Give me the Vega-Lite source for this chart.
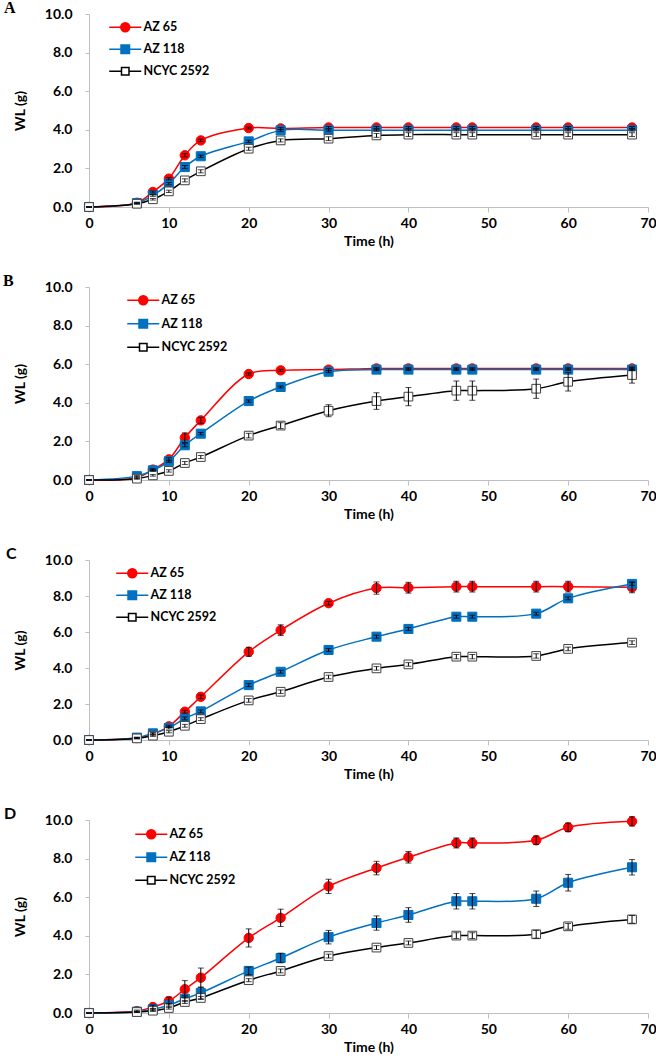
{
  "$schema": "https://vega.github.io/schema/vega-lite/v6.json",
  "padding": {"left": 3, "top": 0, "right": 0, "bottom": 0},
  "spacing": 25,
  "config": {
    "view": {"stroke": null},
    "font": "Lato",
    "axis": {"grid": false, "domainColor": "#bfbfbf", "tickColor": "#bfbfbf", "labelFont": "Lato", "labelFontWeight": "bold", "labelFontSize": 14, "labelColor": "#000", "titleFont": "Lato", "titleFontSize": 14, "titleFontWeight": "bold", "titleColor": "#000"}
  },
  "resolve": {"scale": {"stroke": "independent", "fill": "independent", "shape": "independent", "size": "independent", "strokeWidth": "independent"}},
  "datasets": {
    "d": [
      {"p":"A","s":"AZ 65","t":0,"y":0,"e":0},{"p":"A","s":"AZ 65","t":6,"y":0.22,"e":0.03},{"p":"A","s":"AZ 65","t":8,"y":0.78,"e":0.05},{"p":"A","s":"AZ 65","t":10,"y":1.47,"e":0.06},{"p":"A","s":"AZ 65","t":12,"y":2.68,"e":0.08},{"p":"A","s":"AZ 65","t":14,"y":3.45,"e":0.06},{"p":"A","s":"AZ 65","t":20,"y":4.09,"e":0.05},{"p":"A","s":"AZ 65","t":24,"y":4.07,"e":0.05},{"p":"A","s":"AZ 65","t":30,"y":4.12,"e":0.05},{"p":"A","s":"AZ 65","t":36,"y":4.12,"e":0.05},{"p":"A","s":"AZ 65","t":40,"y":4.12,"e":0.05},{"p":"A","s":"AZ 65","t":46,"y":4.12,"e":0.05},{"p":"A","s":"AZ 65","t":48,"y":4.12,"e":0.05},{"p":"A","s":"AZ 65","t":56,"y":4.12,"e":0.05},{"p":"A","s":"AZ 65","t":60,"y":4.12,"e":0.05},{"p":"A","s":"AZ 65","t":68,"y":4.12,"e":0.05},
      {"p":"A","s":"AZ 118","t":0,"y":0,"e":0},{"p":"A","s":"AZ 118","t":6,"y":0.2,"e":0.03},{"p":"A","s":"AZ 118","t":8,"y":0.6,"e":0.05},{"p":"A","s":"AZ 118","t":10,"y":1.21,"e":0.06},{"p":"A","s":"AZ 118","t":12,"y":2.07,"e":0.08},{"p":"A","s":"AZ 118","t":14,"y":2.63,"e":0.06},{"p":"A","s":"AZ 118","t":20,"y":3.4,"e":0.06},{"p":"A","s":"AZ 118","t":24,"y":3.97,"e":0.05},{"p":"A","s":"AZ 118","t":30,"y":3.98,"e":0.05},{"p":"A","s":"AZ 118","t":36,"y":3.98,"e":0.05},{"p":"A","s":"AZ 118","t":40,"y":3.98,"e":0.05},{"p":"A","s":"AZ 118","t":46,"y":3.98,"e":0.05},{"p":"A","s":"AZ 118","t":48,"y":3.98,"e":0.05},{"p":"A","s":"AZ 118","t":56,"y":3.98,"e":0.05},{"p":"A","s":"AZ 118","t":60,"y":3.98,"e":0.05},{"p":"A","s":"AZ 118","t":68,"y":3.98,"e":0.05},
      {"p":"A","s":"NCYC 2592","t":0,"y":0,"e":0},{"p":"A","s":"NCYC 2592","t":6,"y":0.17,"e":0.03},{"p":"A","s":"NCYC 2592","t":8,"y":0.4,"e":0.04},{"p":"A","s":"NCYC 2592","t":10,"y":0.81,"e":0.06},{"p":"A","s":"NCYC 2592","t":12,"y":1.38,"e":0.08},{"p":"A","s":"NCYC 2592","t":14,"y":1.85,"e":0.08},{"p":"A","s":"NCYC 2592","t":20,"y":3.02,"e":0.08},{"p":"A","s":"NCYC 2592","t":24,"y":3.45,"e":0.08},{"p":"A","s":"NCYC 2592","t":30,"y":3.54,"e":0.1},{"p":"A","s":"NCYC 2592","t":36,"y":3.71,"e":0.1},{"p":"A","s":"NCYC 2592","t":40,"y":3.75,"e":0.1},{"p":"A","s":"NCYC 2592","t":46,"y":3.75,"e":0.1},{"p":"A","s":"NCYC 2592","t":48,"y":3.75,"e":0.1},{"p":"A","s":"NCYC 2592","t":56,"y":3.75,"e":0.1},{"p":"A","s":"NCYC 2592","t":60,"y":3.75,"e":0.1},{"p":"A","s":"NCYC 2592","t":68,"y":3.75,"e":0.1},

      {"p":"B","s":"AZ 65","t":0,"y":0,"e":0},{"p":"B","s":"AZ 65","t":6,"y":0.12,"e":0.03},{"p":"B","s":"AZ 65","t":8,"y":0.54,"e":0.05},{"p":"B","s":"AZ 65","t":10,"y":1.07,"e":0.08},{"p":"B","s":"AZ 65","t":12,"y":2.19,"e":0.25},{"p":"B","s":"AZ 65","t":14,"y":3.09,"e":0.15},{"p":"B","s":"AZ 65","t":20,"y":5.49,"e":0.06},{"p":"B","s":"AZ 65","t":24,"y":5.68,"e":0.05},{"p":"B","s":"AZ 65","t":30,"y":5.72,"e":0.05},{"p":"B","s":"AZ 65","t":36,"y":5.78,"e":0.05},{"p":"B","s":"AZ 65","t":40,"y":5.78,"e":0.05},{"p":"B","s":"AZ 65","t":46,"y":5.78,"e":0.05},{"p":"B","s":"AZ 65","t":48,"y":5.78,"e":0.05},{"p":"B","s":"AZ 65","t":56,"y":5.78,"e":0.05},{"p":"B","s":"AZ 65","t":60,"y":5.78,"e":0.05},{"p":"B","s":"AZ 65","t":68,"y":5.78,"e":0.05},
      {"p":"B","s":"AZ 118","t":0,"y":0,"e":0},{"p":"B","s":"AZ 118","t":6,"y":0.2,"e":0.03},{"p":"B","s":"AZ 118","t":8,"y":0.5,"e":0.05},{"p":"B","s":"AZ 118","t":10,"y":0.97,"e":0.06},{"p":"B","s":"AZ 118","t":12,"y":1.8,"e":0.08},{"p":"B","s":"AZ 118","t":14,"y":2.4,"e":0.06},{"p":"B","s":"AZ 118","t":20,"y":4.09,"e":0.06},{"p":"B","s":"AZ 118","t":24,"y":4.82,"e":0.05},{"p":"B","s":"AZ 118","t":30,"y":5.61,"e":0.05},{"p":"B","s":"AZ 118","t":36,"y":5.72,"e":0.05},{"p":"B","s":"AZ 118","t":40,"y":5.72,"e":0.05},{"p":"B","s":"AZ 118","t":46,"y":5.72,"e":0.05},{"p":"B","s":"AZ 118","t":48,"y":5.72,"e":0.05},{"p":"B","s":"AZ 118","t":56,"y":5.72,"e":0.05},{"p":"B","s":"AZ 118","t":60,"y":5.72,"e":0.05},{"p":"B","s":"AZ 118","t":68,"y":5.72,"e":0.05},
      {"p":"B","s":"NCYC 2592","t":0,"y":0,"e":0},{"p":"B","s":"NCYC 2592","t":6,"y":0.07,"e":0.03},{"p":"B","s":"NCYC 2592","t":8,"y":0.24,"e":0.04},{"p":"B","s":"NCYC 2592","t":10,"y":0.47,"e":0.06},{"p":"B","s":"NCYC 2592","t":12,"y":0.88,"e":0.08},{"p":"B","s":"NCYC 2592","t":14,"y":1.19,"e":0.08},{"p":"B","s":"NCYC 2592","t":20,"y":2.3,"e":0.12},{"p":"B","s":"NCYC 2592","t":24,"y":2.82,"e":0.15},{"p":"B","s":"NCYC 2592","t":30,"y":3.59,"e":0.31},{"p":"B","s":"NCYC 2592","t":36,"y":4.09,"e":0.43},{"p":"B","s":"NCYC 2592","t":40,"y":4.32,"e":0.47},{"p":"B","s":"NCYC 2592","t":46,"y":4.63,"e":0.5},{"p":"B","s":"NCYC 2592","t":48,"y":4.63,"e":0.5},{"p":"B","s":"NCYC 2592","t":56,"y":4.73,"e":0.5},{"p":"B","s":"NCYC 2592","t":60,"y":5.09,"e":0.48},{"p":"B","s":"NCYC 2592","t":68,"y":5.44,"e":0.42},

      {"p":"C","s":"AZ 65","t":0,"y":0,"e":0},{"p":"C","s":"AZ 65","t":6,"y":0.11,"e":0.03},{"p":"C","s":"AZ 65","t":8,"y":0.33,"e":0.05},{"p":"C","s":"AZ 65","t":10,"y":0.76,"e":0.06},{"p":"C","s":"AZ 65","t":12,"y":1.57,"e":0.08},{"p":"C","s":"AZ 65","t":14,"y":2.4,"e":0.1},{"p":"C","s":"AZ 65","t":20,"y":4.9,"e":0.25},{"p":"C","s":"AZ 65","t":24,"y":6.1,"e":0.3},{"p":"C","s":"AZ 65","t":30,"y":7.6,"e":0.1},{"p":"C","s":"AZ 65","t":36,"y":8.44,"e":0.34},{"p":"C","s":"AZ 65","t":40,"y":8.46,"e":0.3},{"p":"C","s":"AZ 65","t":46,"y":8.52,"e":0.3},{"p":"C","s":"AZ 65","t":48,"y":8.52,"e":0.3},{"p":"C","s":"AZ 65","t":56,"y":8.52,"e":0.3},{"p":"C","s":"AZ 65","t":60,"y":8.52,"e":0.3},{"p":"C","s":"AZ 65","t":68,"y":8.48,"e":0.3},
      {"p":"C","s":"AZ 118","t":0,"y":0,"e":0},{"p":"C","s":"AZ 118","t":6,"y":0.13,"e":0.03},{"p":"C","s":"AZ 118","t":8,"y":0.37,"e":0.05},{"p":"C","s":"AZ 118","t":10,"y":0.67,"e":0.06},{"p":"C","s":"AZ 118","t":12,"y":1.2,"e":0.08},{"p":"C","s":"AZ 118","t":14,"y":1.59,"e":0.08},{"p":"C","s":"AZ 118","t":20,"y":3.05,"e":0.08},{"p":"C","s":"AZ 118","t":24,"y":3.79,"e":0.08},{"p":"C","s":"AZ 118","t":30,"y":5.0,"e":0.08},{"p":"C","s":"AZ 118","t":36,"y":5.74,"e":0.08},{"p":"C","s":"AZ 118","t":40,"y":6.17,"e":0.08},{"p":"C","s":"AZ 118","t":46,"y":6.85,"e":0.08},{"p":"C","s":"AZ 118","t":48,"y":6.85,"e":0.08},{"p":"C","s":"AZ 118","t":56,"y":7.02,"e":0.08},{"p":"C","s":"AZ 118","t":60,"y":7.87,"e":0.08},{"p":"C","s":"AZ 118","t":68,"y":8.67,"e":0.08},
      {"p":"C","s":"NCYC 2592","t":0,"y":0,"e":0},{"p":"C","s":"NCYC 2592","t":6,"y":0.09,"e":0.03},{"p":"C","s":"NCYC 2592","t":8,"y":0.24,"e":0.04},{"p":"C","s":"NCYC 2592","t":10,"y":0.46,"e":0.06},{"p":"C","s":"NCYC 2592","t":12,"y":0.79,"e":0.08},{"p":"C","s":"NCYC 2592","t":14,"y":1.16,"e":0.08},{"p":"C","s":"NCYC 2592","t":20,"y":2.2,"e":0.1},{"p":"C","s":"NCYC 2592","t":24,"y":2.68,"e":0.1},{"p":"C","s":"NCYC 2592","t":30,"y":3.5,"e":0.1},{"p":"C","s":"NCYC 2592","t":36,"y":3.98,"e":0.1},{"p":"C","s":"NCYC 2592","t":40,"y":4.2,"e":0.1},{"p":"C","s":"NCYC 2592","t":46,"y":4.63,"e":0.12},{"p":"C","s":"NCYC 2592","t":48,"y":4.63,"e":0.12},{"p":"C","s":"NCYC 2592","t":56,"y":4.67,"e":0.12},{"p":"C","s":"NCYC 2592","t":60,"y":5.06,"e":0.1},{"p":"C","s":"NCYC 2592","t":68,"y":5.41,"e":0.1},

      {"p":"D","s":"AZ 65","t":0,"y":0,"e":0},{"p":"D","s":"AZ 65","t":6,"y":0.1,"e":0.05},{"p":"D","s":"AZ 65","t":8,"y":0.31,"e":0.1},{"p":"D","s":"AZ 65","t":10,"y":0.62,"e":0.2},{"p":"D","s":"AZ 65","t":12,"y":1.23,"e":0.45},{"p":"D","s":"AZ 65","t":14,"y":1.83,"e":0.5},{"p":"D","s":"AZ 65","t":20,"y":3.89,"e":0.47},{"p":"D","s":"AZ 65","t":24,"y":4.93,"e":0.45},{"p":"D","s":"AZ 65","t":30,"y":6.56,"e":0.37},{"p":"D","s":"AZ 65","t":36,"y":7.51,"e":0.35},{"p":"D","s":"AZ 65","t":40,"y":8.07,"e":0.3},{"p":"D","s":"AZ 65","t":46,"y":8.81,"e":0.26},{"p":"D","s":"AZ 65","t":48,"y":8.81,"e":0.26},{"p":"D","s":"AZ 65","t":56,"y":8.95,"e":0.22},{"p":"D","s":"AZ 65","t":60,"y":9.62,"e":0.22},{"p":"D","s":"AZ 65","t":68,"y":9.93,"e":0.24},
      {"p":"D","s":"AZ 118","t":0,"y":0,"e":0},{"p":"D","s":"AZ 118","t":6,"y":0.07,"e":0.03},{"p":"D","s":"AZ 118","t":8,"y":0.19,"e":0.05},{"p":"D","s":"AZ 118","t":10,"y":0.4,"e":0.1},{"p":"D","s":"AZ 118","t":12,"y":0.74,"e":0.15},{"p":"D","s":"AZ 118","t":14,"y":1.04,"e":0.3},{"p":"D","s":"AZ 118","t":20,"y":2.18,"e":0.2},{"p":"D","s":"AZ 118","t":24,"y":2.85,"e":0.25},{"p":"D","s":"AZ 118","t":30,"y":3.93,"e":0.35},{"p":"D","s":"AZ 118","t":36,"y":4.66,"e":0.37},{"p":"D","s":"AZ 118","t":40,"y":5.08,"e":0.38},{"p":"D","s":"AZ 118","t":46,"y":5.79,"e":0.4},{"p":"D","s":"AZ 118","t":48,"y":5.79,"e":0.4},{"p":"D","s":"AZ 118","t":56,"y":5.92,"e":0.4},{"p":"D","s":"AZ 118","t":60,"y":6.75,"e":0.43},{"p":"D","s":"AZ 118","t":68,"y":7.55,"e":0.4},
      {"p":"D","s":"NCYC 2592","t":0,"y":0,"e":0},{"p":"D","s":"NCYC 2592","t":6,"y":0.05,"e":0.03},{"p":"D","s":"NCYC 2592","t":8,"y":0.12,"e":0.04},{"p":"D","s":"NCYC 2592","t":10,"y":0.26,"e":0.06},{"p":"D","s":"NCYC 2592","t":12,"y":0.57,"e":0.08},{"p":"D","s":"NCYC 2592","t":14,"y":0.78,"e":0.08},{"p":"D","s":"NCYC 2592","t":20,"y":1.7,"e":0.08},{"p":"D","s":"NCYC 2592","t":24,"y":2.18,"e":0.1},{"p":"D","s":"NCYC 2592","t":30,"y":2.95,"e":0.1},{"p":"D","s":"NCYC 2592","t":36,"y":3.39,"e":0.1},{"p":"D","s":"NCYC 2592","t":40,"y":3.63,"e":0.1},{"p":"D","s":"NCYC 2592","t":46,"y":4.01,"e":0.15},{"p":"D","s":"NCYC 2592","t":48,"y":4.01,"e":0.15},{"p":"D","s":"NCYC 2592","t":56,"y":4.08,"e":0.2},{"p":"D","s":"NCYC 2592","t":60,"y":4.49,"e":0.15},{"p":"D","s":"NCYC 2592","t":68,"y":4.85,"e":0.2}
    ]
  },
  "vconcat": [
    {
      "width": 559, "height": 193,
      "title": {"text": "A", "anchor": "start", "frame": "group", "dx": -85, "offset": -22, "baseline": "alphabetic", "font": "Liberation Serif", "fontSize": 16, "fontWeight": "bold", "color": "#000"},
      "data": {"name": "d"},
      "transform": [{"filter": "datum.p == 'A'"}],
      "resolve": {"scale": {"stroke": "independent", "fill": "independent", "shape": "independent", "size": "independent", "strokeWidth": "independent"}},
      "encoding": {
        "x": {"field": "t", "type": "quantitative", "scale": {"domain": [0, 70], "nice": false}, "axis": {"title": "Time (h)", "values": [0,10,20,30,40,50,60,70], "tickSize": 5, "labelPadding": 4, "titlePadding": 4, "labelFlush": false}},
        "y": {"field": "y", "type": "quantitative", "scale": {"domain": [0, 10], "nice": false}, "axis": {"title": "WL (g)", "values": [0,2,4,6,8,10], "format": ".1f", "tickSize": 4, "labelPadding": 13, "titlePadding": 17}}
      },
      "layer": [
        {"mark": {"type": "line", "interpolate": "catmull-rom"},
         "encoding": {
           "stroke": {"field": "s", "type": "nominal", "scale": {"domain": ["AZ 65","AZ 118","NCYC 2592"], "range": ["#ff0000","#0070c0","#000000"]}, "legend": null},
           "strokeWidth": {"field": "s", "type": "nominal", "scale": {"domain": ["AZ 65","AZ 118","NCYC 2592"], "range": [1.5, 1.5, 1.5]}, "legend": null}
         }},
        {"mark": {"type": "point", "strokeWidth": 1, "opacity": 1, "fillOpacity": 1},
         "encoding": {
           "stroke": {"field": "s", "type": "nominal", "scale": {"domain": ["AZ 65","AZ 118","NCYC 2592"], "range": ["#ff0000","#0070c0","#404040"]}, "legend": null},
           "fill": {"field": "s", "type": "nominal", "scale": {"domain": ["AZ 65","AZ 118","NCYC 2592"], "range": ["#ff0000","#0070c0","#ffffff"]}, "legend": null},
           "shape": {"field": "s", "type": "nominal", "scale": {"domain": ["AZ 65","AZ 118","NCYC 2592"], "range": ["circle","square","square"]}, "legend": null},
           "size": {"field": "s", "type": "ordinal", "scale": {"domain": ["AZ 65","AZ 118","NCYC 2592"], "range": [88, 76, 56]}, "legend": null}
         }},
        {"mark": {"type": "errorbar", "ticks": {"size": 6}, "color": "#000", "thickness": 1},
         "encoding": {"y": {"field": "y", "type": "quantitative"}, "yError": {"field": "e"}}},
        {"transform": [{"filter": "datum.t < 0"}],
         "mark": {"type": "point", "size": 100, "strokeWidth": 1.5},
         "encoding": {
           "shape": {"field": "s", "type": "nominal", "scale": {"domain": ["AZ 65","AZ 118","NCYC 2592"], "range": ["M-3.2,0H-0.9M0.9,0H3.2M-0.9,0A0.9,0.9,0,1,1,0.9,0A0.9,0.9,0,1,1,-0.9,0Z", "M-3.2,0H-0.85M0.85,0H3.2M-0.85,-0.85H0.85V0.85H-0.85Z", "M-3.2,0H-0.75M0.75,0H3.2M-0.75,-0.75H0.75V0.75H-0.75Z"]},
             "legend": {"title": null, "orient": "none", "legendX": 30, "legendY": 7, "rowPadding": 7, "labelFont": "Lato", "labelFontWeight": "bold", "labelFontSize": 12.5, "labelColor": "#000", "symbolSize": 100, "symbolStrokeWidth": 1.5, "labelOffset": 12, "symbolOpacity": 1}},
           "fill": {"field": "s", "type": "nominal", "scale": {"domain": ["AZ 65","AZ 118","NCYC 2592"], "range": ["#ff0000","#0070c0","#ffffff"]},
             "legend": {"title": null, "orient": "none", "legendX": 30, "legendY": 7, "rowPadding": 7, "labelFont": "Lato", "labelFontWeight": "bold", "labelFontSize": 12.5, "labelColor": "#000", "symbolSize": 100, "symbolStrokeWidth": 1.5, "labelOffset": 12, "symbolOpacity": 1}},
           "stroke": {"field": "s", "type": "nominal", "scale": {"domain": ["AZ 65","AZ 118","NCYC 2592"], "range": ["#ff0000","#0070c0","#000000"]},
             "legend": {"title": null, "orient": "none", "legendX": 30, "legendY": 7, "rowPadding": 7, "labelFont": "Lato", "labelFontWeight": "bold", "labelFontSize": 12.5, "labelColor": "#000", "symbolSize": 100, "symbolStrokeWidth": 1.5, "labelOffset": 12, "symbolOpacity": 1}}
         }}
      ]
    },
    {
      "width": 559, "height": 193,
      "title": {"text": "B", "anchor": "start", "frame": "group", "dx": -86, "offset": -22, "baseline": "alphabetic", "font": "Liberation Serif", "fontSize": 16, "fontWeight": "bold", "color": "#000"},
      "data": {"name": "d"},
      "transform": [{"filter": "datum.p == 'B'"}],
      "resolve": {"scale": {"stroke": "independent", "fill": "independent", "shape": "independent", "size": "independent", "strokeWidth": "independent"}},
      "encoding": {
        "x": {"field": "t", "type": "quantitative", "scale": {"domain": [0, 70], "nice": false}, "axis": {"title": "Time (h)", "values": [0,10,20,30,40,50,60,70], "tickSize": 5, "labelPadding": 4, "titlePadding": 4, "labelFlush": false}},
        "y": {"field": "y", "type": "quantitative", "scale": {"domain": [0, 10], "nice": false}, "axis": {"title": "WL (g)", "values": [0,2,4,6,8,10], "format": ".1f", "tickSize": 4, "labelPadding": 13, "titlePadding": 17}}
      },
      "layer": [
        {"mark": {"type": "line", "interpolate": "catmull-rom"},
         "encoding": {
           "stroke": {"field": "s", "type": "nominal", "scale": {"domain": ["AZ 65","AZ 118","NCYC 2592"], "range": ["#ff0000","#0070c0","#000000"]}, "legend": null},
           "strokeWidth": {"field": "s", "type": "nominal", "scale": {"domain": ["AZ 65","AZ 118","NCYC 2592"], "range": [1.5, 1.5, 2.5]}, "legend": null}
         }},
        {"mark": {"type": "point", "strokeWidth": 1, "opacity": 1, "fillOpacity": 1},
         "encoding": {
           "stroke": {"field": "s", "type": "nominal", "scale": {"domain": ["AZ 65","AZ 118","NCYC 2592"], "range": ["#ff0000","#0070c0","#404040"]}, "legend": null},
           "fill": {"field": "s", "type": "nominal", "scale": {"domain": ["AZ 65","AZ 118","NCYC 2592"], "range": ["#ff0000","#0070c0","#ffffff"]}, "legend": null},
           "shape": {"field": "s", "type": "nominal", "scale": {"domain": ["AZ 65","AZ 118","NCYC 2592"], "range": ["circle","square","square"]}, "legend": null},
           "size": {"field": "s", "type": "ordinal", "scale": {"domain": ["AZ 65","AZ 118","NCYC 2592"], "range": [88, 76, 56]}, "legend": null}
         }},
        {"mark": {"type": "errorbar", "ticks": {"size": 6}, "color": "#000", "thickness": 1},
         "encoding": {"y": {"field": "y", "type": "quantitative"}, "yError": {"field": "e"}}},
        {"transform": [{"filter": "datum.t < 0"}],
         "mark": {"type": "point", "size": 100, "strokeWidth": 1.5},
         "encoding": {
           "shape": {"field": "s", "type": "nominal", "scale": {"domain": ["AZ 65","AZ 118","NCYC 2592"], "range": ["M-3.2,0H-0.9M0.9,0H3.2M-0.9,0A0.9,0.9,0,1,1,0.9,0A0.9,0.9,0,1,1,-0.9,0Z", "M-3.2,0H-0.85M0.85,0H3.2M-0.85,-0.85H0.85V0.85H-0.85Z", "M-3.2,0H-0.75M0.75,0H3.2M-0.75,-0.75H0.75V0.75H-0.75Z"]},
             "legend": {"title": null, "orient": "none", "legendX": 48, "legendY": 7, "rowPadding": 8.5, "labelFont": "Lato", "labelFontWeight": "bold", "labelFontSize": 12.5, "labelColor": "#000", "symbolSize": 100, "symbolStrokeWidth": 1.5, "labelOffset": 12, "symbolOpacity": 1}},
           "fill": {"field": "s", "type": "nominal", "scale": {"domain": ["AZ 65","AZ 118","NCYC 2592"], "range": ["#ff0000","#0070c0","#ffffff"]},
             "legend": {"title": null, "orient": "none", "legendX": 48, "legendY": 7, "rowPadding": 8.5, "labelFont": "Lato", "labelFontWeight": "bold", "labelFontSize": 12.5, "labelColor": "#000", "symbolSize": 100, "symbolStrokeWidth": 1.5, "labelOffset": 12, "symbolOpacity": 1}},
           "stroke": {"field": "s", "type": "nominal", "scale": {"domain": ["AZ 65","AZ 118","NCYC 2592"], "range": ["#ff0000","#0070c0","#000000"]},
             "legend": {"title": null, "orient": "none", "legendX": 48, "legendY": 7, "rowPadding": 8.5, "labelFont": "Lato", "labelFontWeight": "bold", "labelFontSize": 12.5, "labelColor": "#000", "symbolSize": 100, "symbolStrokeWidth": 1.5, "labelOffset": 12, "symbolOpacity": 1}}
         }}
      ]
    },
    {
      "width": 559, "height": 180,
      "title": {"text": "C", "anchor": "start", "frame": "group", "dx": -83, "offset": -22, "baseline": "alphabetic", "font": "Lato", "fontSize": 16, "fontWeight": "bold", "color": "#000"},
      "data": {"name": "d"},
      "transform": [{"filter": "datum.p == 'C'"}],
      "resolve": {"scale": {"stroke": "independent", "fill": "independent", "shape": "independent", "size": "independent", "strokeWidth": "independent"}},
      "encoding": {
        "x": {"field": "t", "type": "quantitative", "scale": {"domain": [0, 70], "nice": false}, "axis": {"title": "Time (h)", "values": [0,10,20,30,40,50,60,70], "tickSize": 5, "labelPadding": 4, "titlePadding": 4, "labelFlush": false}},
        "y": {"field": "y", "type": "quantitative", "scale": {"domain": [0, 10], "nice": false}, "axis": {"title": "WL (g)", "values": [0,2,4,6,8,10], "format": ".1f", "tickSize": 4, "labelPadding": 13, "titlePadding": 17}}
      },
      "layer": [
        {"mark": {"type": "line", "interpolate": "catmull-rom"},
         "encoding": {
           "stroke": {"field": "s", "type": "nominal", "scale": {"domain": ["AZ 65","AZ 118","NCYC 2592"], "range": ["#ff0000","#0070c0","#000000"]}, "legend": null},
           "strokeWidth": {"field": "s", "type": "nominal", "scale": {"domain": ["AZ 65","AZ 118","NCYC 2592"], "range": [1.5, 1.5, 1.5]}, "legend": null}
         }},
        {"mark": {"type": "point", "strokeWidth": 1, "opacity": 1, "fillOpacity": 1},
         "encoding": {
           "stroke": {"field": "s", "type": "nominal", "scale": {"domain": ["AZ 65","AZ 118","NCYC 2592"], "range": ["#ff0000","#0070c0","#404040"]}, "legend": null},
           "fill": {"field": "s", "type": "nominal", "scale": {"domain": ["AZ 65","AZ 118","NCYC 2592"], "range": ["#ff0000","#0070c0","#ffffff"]}, "legend": null},
           "shape": {"field": "s", "type": "nominal", "scale": {"domain": ["AZ 65","AZ 118","NCYC 2592"], "range": ["circle","square","square"]}, "legend": null},
           "size": {"field": "s", "type": "ordinal", "scale": {"domain": ["AZ 65","AZ 118","NCYC 2592"], "range": [88, 76, 56]}, "legend": null}
         }},
        {"mark": {"type": "errorbar", "ticks": {"size": 6}, "color": "#000", "thickness": 1},
         "encoding": {"y": {"field": "y", "type": "quantitative"}, "yError": {"field": "e"}}},
        {"transform": [{"filter": "datum.t < 0"}],
         "mark": {"type": "point", "size": 100, "strokeWidth": 1.5},
         "encoding": {
           "shape": {"field": "s", "type": "nominal", "scale": {"domain": ["AZ 65","AZ 118","NCYC 2592"], "range": ["M-3.2,0H-0.9M0.9,0H3.2M-0.9,0A0.9,0.9,0,1,1,0.9,0A0.9,0.9,0,1,1,-0.9,0Z", "M-3.2,0H-0.85M0.85,0H3.2M-0.85,-0.85H0.85V0.85H-0.85Z", "M-3.2,0H-0.75M0.75,0H3.2M-0.75,-0.75H0.75V0.75H-0.75Z"]},
             "legend": {"title": null, "orient": "none", "legendX": 37, "legendY": 7, "rowPadding": 7, "labelFont": "Lato", "labelFontWeight": "bold", "labelFontSize": 12.5, "labelColor": "#000", "symbolSize": 100, "symbolStrokeWidth": 1.5, "labelOffset": 12, "symbolOpacity": 1}},
           "fill": {"field": "s", "type": "nominal", "scale": {"domain": ["AZ 65","AZ 118","NCYC 2592"], "range": ["#ff0000","#0070c0","#ffffff"]},
             "legend": {"title": null, "orient": "none", "legendX": 37, "legendY": 7, "rowPadding": 7, "labelFont": "Lato", "labelFontWeight": "bold", "labelFontSize": 12.5, "labelColor": "#000", "symbolSize": 100, "symbolStrokeWidth": 1.5, "labelOffset": 12, "symbolOpacity": 1}},
           "stroke": {"field": "s", "type": "nominal", "scale": {"domain": ["AZ 65","AZ 118","NCYC 2592"], "range": ["#ff0000","#0070c0","#000000"]},
             "legend": {"title": null, "orient": "none", "legendX": 37, "legendY": 7, "rowPadding": 7, "labelFont": "Lato", "labelFontWeight": "bold", "labelFontSize": 12.5, "labelColor": "#000", "symbolSize": 100, "symbolStrokeWidth": 1.5, "labelOffset": 12, "symbolOpacity": 1}}
         }}
      ]
    },
    {
      "width": 559, "height": 193,
      "title": {"text": "D", "anchor": "start", "frame": "group", "dx": -85, "offset": -22, "baseline": "alphabetic", "font": "Lato", "fontSize": 16, "fontWeight": "bold", "color": "#000"},
      "data": {"name": "d"},
      "transform": [{"filter": "datum.p == 'D'"}],
      "resolve": {"scale": {"stroke": "independent", "fill": "independent", "shape": "independent", "size": "independent", "strokeWidth": "independent"}},
      "encoding": {
        "x": {"field": "t", "type": "quantitative", "scale": {"domain": [0, 70], "nice": false}, "axis": {"title": "Time (h)", "values": [0,10,20,30,40,50,60,70], "tickSize": 5, "labelPadding": 4, "titlePadding": 4, "labelFlush": false}},
        "y": {"field": "y", "type": "quantitative", "scale": {"domain": [0, 10], "nice": false}, "axis": {"title": "WL (g)", "values": [0,2,4,6,8,10], "format": ".1f", "tickSize": 4, "labelPadding": 13, "titlePadding": 17}}
      },
      "layer": [
        {"mark": {"type": "line", "interpolate": "catmull-rom"},
         "encoding": {
           "stroke": {"field": "s", "type": "nominal", "scale": {"domain": ["AZ 65","AZ 118","NCYC 2592"], "range": ["#ff0000","#0070c0","#000000"]}, "legend": null},
           "strokeWidth": {"field": "s", "type": "nominal", "scale": {"domain": ["AZ 65","AZ 118","NCYC 2592"], "range": [1.5, 1.5, 1.5]}, "legend": null}
         }},
        {"mark": {"type": "point", "strokeWidth": 1, "opacity": 1, "fillOpacity": 1},
         "encoding": {
           "stroke": {"field": "s", "type": "nominal", "scale": {"domain": ["AZ 65","AZ 118","NCYC 2592"], "range": ["#ff0000","#0070c0","#404040"]}, "legend": null},
           "fill": {"field": "s", "type": "nominal", "scale": {"domain": ["AZ 65","AZ 118","NCYC 2592"], "range": ["#ff0000","#0070c0","#ffffff"]}, "legend": null},
           "shape": {"field": "s", "type": "nominal", "scale": {"domain": ["AZ 65","AZ 118","NCYC 2592"], "range": ["circle","square","square"]}, "legend": null},
           "size": {"field": "s", "type": "ordinal", "scale": {"domain": ["AZ 65","AZ 118","NCYC 2592"], "range": [88, 76, 56]}, "legend": null}
         }},
        {"mark": {"type": "errorbar", "ticks": {"size": 6}, "color": "#000", "thickness": 1},
         "encoding": {"y": {"field": "y", "type": "quantitative"}, "yError": {"field": "e"}}},
        {"transform": [{"filter": "datum.t < 0"}],
         "mark": {"type": "point", "size": 100, "strokeWidth": 1.5},
         "encoding": {
           "shape": {"field": "s", "type": "nominal", "scale": {"domain": ["AZ 65","AZ 118","NCYC 2592"], "range": ["M-3.2,0H-0.9M0.9,0H3.2M-0.9,0A0.9,0.9,0,1,1,0.9,0A0.9,0.9,0,1,1,-0.9,0Z", "M-3.2,0H-0.85M0.85,0H3.2M-0.85,-0.85H0.85V0.85H-0.85Z", "M-3.2,0H-0.75M0.75,0H3.2M-0.75,-0.75H0.75V0.75H-0.75Z"]},
             "legend": {"title": null, "orient": "none", "legendX": 56, "legendY": 8, "rowPadding": 8, "labelFont": "Lato", "labelFontWeight": "bold", "labelFontSize": 12.5, "labelColor": "#000", "symbolSize": 100, "symbolStrokeWidth": 1.5, "labelOffset": 12, "symbolOpacity": 1}},
           "fill": {"field": "s", "type": "nominal", "scale": {"domain": ["AZ 65","AZ 118","NCYC 2592"], "range": ["#ff0000","#0070c0","#ffffff"]},
             "legend": {"title": null, "orient": "none", "legendX": 56, "legendY": 8, "rowPadding": 8, "labelFont": "Lato", "labelFontWeight": "bold", "labelFontSize": 12.5, "labelColor": "#000", "symbolSize": 100, "symbolStrokeWidth": 1.5, "labelOffset": 12, "symbolOpacity": 1}},
           "stroke": {"field": "s", "type": "nominal", "scale": {"domain": ["AZ 65","AZ 118","NCYC 2592"], "range": ["#ff0000","#0070c0","#000000"]},
             "legend": {"title": null, "orient": "none", "legendX": 56, "legendY": 8, "rowPadding": 8, "labelFont": "Lato", "labelFontWeight": "bold", "labelFontSize": 12.5, "labelColor": "#000", "symbolSize": 100, "symbolStrokeWidth": 1.5, "labelOffset": 12, "symbolOpacity": 1}}
         }}
      ]
    }
  ]
}
